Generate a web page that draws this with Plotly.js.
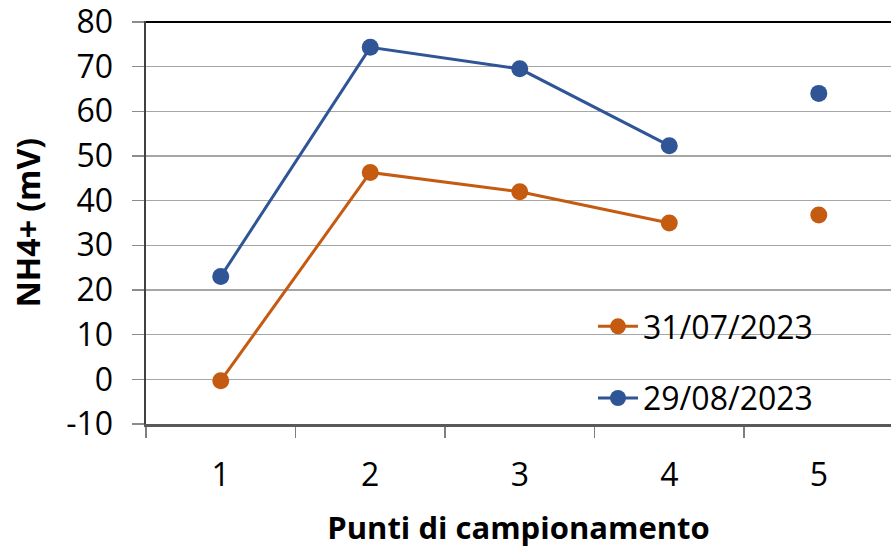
<!DOCTYPE html>
<html>
<head>
<meta charset="utf-8">
<script src="https://cdn.plot.ly/plotly-3.0.1.min.js"></script>
<style>
  html, body { margin: 0; padding: 0; background: #ffffff; }
  #chart { width: 891px; height: 548px; }
</style>
</head>
<body>
<div id="chart"></div>
<script>
// Sampling points and NH4+ readings (mV) for the two campaigns
const categories = ['1', '2', '3', '4', '5'];
const seriesNames = ['31/07/2023', '29/08/2023'];
const julyValues = [-0.3, 46.3, 42.0, 35.0, 36.8];
const augustValues = [23.0, 74.3, 69.5, 52.3, 64.0];
const seriesColors = ['#C55A11', '#2F5597'];
const yTicks = [-10, 0, 10, 20, 30, 40, 50, 60, 70, 80];

const FONT = 'Open Sans, Noto Sans, sans-serif';

// Points 1-4 are joined by a line; point 5 stands alone
function makeTraces(name, values, color, group) {
  return [
    {
      x: categories.slice(0, 4), y: values.slice(0, 4),
      type: 'scatter', mode: 'lines+markers', name: name,
      legendgroup: group,
      line: { color: color, width: 3 },
      marker: { color: color, size: 17 },
      cliponaxis: false
    },
    {
      x: categories.slice(4), y: values.slice(4),
      type: 'scatter', mode: 'markers', name: name,
      legendgroup: group, showlegend: false,
      marker: { color: color, size: 17 },
      cliponaxis: false
    }
  ];
}

const data = [
  ...makeTraces(seriesNames[0], julyValues, seriesColors[0], 'a'),
  ...makeTraces(seriesNames[1], augustValues, seriesColors[1], 'b')
];

const layout = {
  width: 891, height: 548,
  margin: { l: 146, r: 0, t: 21, b: 124 },
  paper_bgcolor: '#ffffff', plot_bgcolor: '#ffffff',
  font: { family: FONT, color: '#000000', size: 32 },
  showlegend: true,
  legend: {
    x: 0.60, xanchor: 'left', y: 0.31, yanchor: 'top',
    bgcolor: 'rgba(0,0,0,0)',
    font: { family: FONT, size: 32, color: '#000000' },
    traceorder: 'grouped', tracegroupgap: 27,
    itemwidth: 40
  },
  xaxis: {
    type: 'category',
    categoryorder: 'array', categoryarray: categories,
    range: [-0.5, 4.483],
    tickson: 'boundaries',
    ticks: 'outside', ticklen: 11, tickwidth: 1.5, tickcolor: '#7f7f7f',
    ticklabelstandoff: 21,
    showline: true, linecolor: '#595959', linewidth: 2.5,
    showgrid: false, zeroline: false,
    tickfont: { family: FONT, size: 32 },
    title: { text: '<b>Punti di campionamento</b>', font: { family: FONT, size: 31 }, standoff: 36 },
    automargin: false
  },
  yaxis: {
    range: [-10, 80.2],
    tickvals: yTicks,
    ticktext: yTicks.map(String),
    ticklabeloverflow: 'allow',
    ticks: 'outside', ticklen: 12, tickwidth: 1.5, tickcolor: '#8c8c8c',
    ticklabelstandoff: 12,
    showline: true, linecolor: '#404040', linewidth: 2.5,
    showgrid: true, gridcolor: '#a6a6a6', gridwidth: 1.5,
    zeroline: false,
    tickfont: { family: FONT, size: 32 },
    title: { text: '<b>NH4+ (mV)</b>', font: { family: FONT, size: 32 }, standoff: 16 },
    automargin: false
  },
  shapes: [
    // dark upper border of the plot area
    { type: 'line', xref: 'paper', yref: 'y', x0: 0, x1: 1, y0: 80, y1: 80,
      layer: 'above', line: { color: '#000000', width: 2 } }
  ]
};

Plotly.newPlot('chart', data, layout, { displayModeBar: false, staticPlot: true });
</script>
</body>
</html>
